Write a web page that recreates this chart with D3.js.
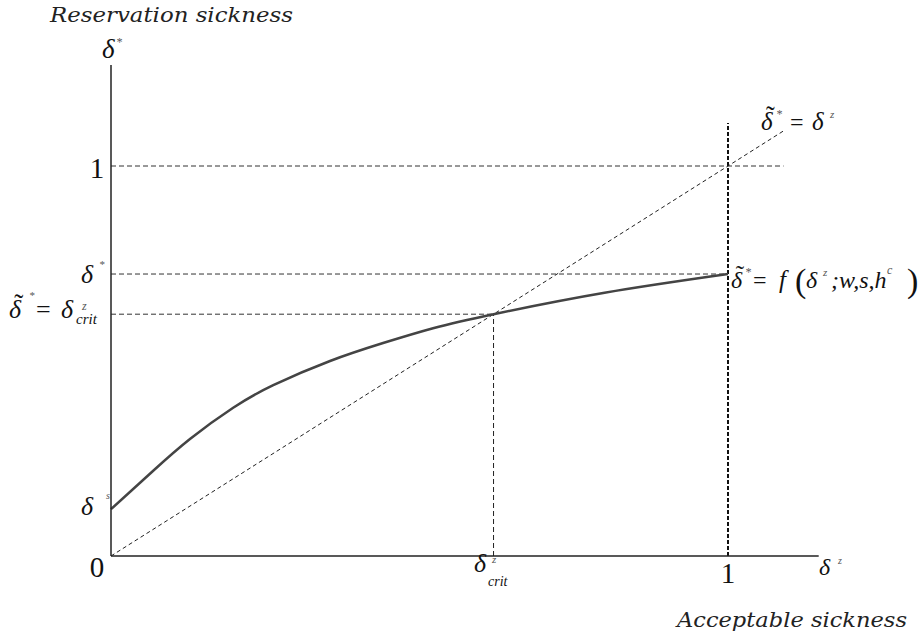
<!DOCTYPE html>
<html>
<head>
<meta charset="utf-8">
<script src="https://cdn.jsdelivr.net/npm/d3@7/dist/d3.min.js"></script>
<style>
  body { margin: 0; background: #fff; }
  .math { font-family: "Liberation Serif", serif; font-style: italic; fill: #111; }
  .num { font-family: "Liberation Serif", serif; fill: #111; }
  .title { font-family: "DejaVu Serif", serif; font-style: italic; fill: #222; }
</style>
</head>
<body>
<div id="chart"></div>
<script>
// reaction curve delta~* = f(delta^z; w, s, h^c)
const curveX = [0, 0.068, 0.128, 0.198, 0.263, 0.355, 0.441, 0.522, 0.62, 0.8, 1];
const curveY = [0.12, 0.218, 0.3, 0.38, 0.438, 0.5, 0.546, 0.584, 0.62, 0.675, 0.723];
// key levels
const deltaS = 0.12;
const deltaStar = 0.723;
const deltaCrit = 0.62;
const xTicks = [0, 1];
const yTicks = [1];
const axisTitles = ['Reservation sickness', 'Acceptable sickness'];

const W = 922, H = 636;
const svg = d3.select('#chart').append('svg')
    .attr('width', W).attr('height', H);

const x = d3.scaleLinear().domain([0, 1]).range([111, 728]);
const y = d3.scaleLinear().domain([0, 1]).range([556, 166]);

const xMax = 1.147, yMax = 1.259;

// dashed guides
const guide = (x1, y1, x2, y2, dash, width, color) => svg.append('line')
    .attr('x1', x(x1)).attr('y1', y(y1)).attr('x2', x(x2)).attr('y2', y(y2))
    .attr('stroke', color).attr('stroke-width', width)
    .attr('stroke-dasharray', dash);

guide(0, 1, 1.09, 1, '5,3', 1, '#333');
guide(0, deltaStar, 1, deltaStar, '5,3', 1, '#333');
guide(0, deltaCrit, deltaCrit, deltaCrit, '5,3', 1, '#333');
guide(deltaCrit, 0, deltaCrit, deltaCrit, '5,3', 1, '#222');
guide(1, 0, 1, 1.11, '4,2', 2, '#111');
guide(0, 0, 1.09, 1.09, '4,3', 1, '#222');

// the curve
const pts = curveX.map((d, i) => [d, curveY[i]]);
svg.append('path')
    .datum(pts)
    .attr('fill', 'none')
    .attr('stroke', '#444')
    .attr('stroke-width', 2.5)
    .attr('d', d3.line().x(d => x(d[0])).y(d => y(d[1])).curve(d3.curveNatural));

// axes
svg.append('line').attr('x1', x(0)).attr('y1', y(0)).attr('x2', x(xMax)).attr('y2', y(0))
    .attr('stroke', '#222').attr('stroke-width', 1.5);
svg.append('line').attr('x1', x(0)).attr('y1', y(0)).attr('x2', x(0)).attr('y2', y(yMax))
    .attr('stroke', '#222').attr('stroke-width', 1.5);

// tick numbers
xTicks.forEach(t => {
    svg.append('text').attr('class', 'num')
        .attr('x', t === 0 ? x(t) - 14 : x(t)).attr('y', t === 0 ? 577 : 583)
        .attr('text-anchor', 'middle').attr('font-size', 29).text(t);
});
yTicks.forEach(t => {
    svg.append('text').attr('class', 'num')
        .attr('x', x(0) - 14).attr('y', y(t) + 12)
        .attr('text-anchor', 'middle').attr('font-size', 29).text(t);
});

// a math label: one text element, pieces placed with absolute tspans
// piece: [x, y, str, size, kind]  kind: 'r' roman, 's' small grey, 't' tilde
function label(pieces) {
    const t = svg.append('text').attr('class', 'math');
    pieces.forEach(([px, py, str, size, kind]) => {
        const s = t.append('tspan').attr('x', px).attr('y', py)
            .attr('font-size', size).text(str);
        if (kind === 'r' || kind === 't') s.style('font-style', 'normal');
        if (kind === 's') s.style('fill', '#555');
    });
    return t;
}
// delta with tilde, as pieces
const dTilde = (px, py, size) => [
    [px, py, 'δ', size],
    [px + size * 0.2, py - size * 0.2, '˜', size * 1.05, 't']
];

// y-axis symbol
label([[102, 58, 'δ', 27], [116, 46, '*', 12, 's']]);
// x-axis symbol
label([[819, 575, 'δ', 24], [838, 564, 'z', 10, 's']]);

// left-hand level labels
label([[81, 283, 'δ', 26], [99, 268, '*', 11, 's']]);
label([
    ...dTilde(9, 318, 26),
    [29, 299, '*', 11, 's'],
    [36, 318, '=', 26, 'r'],
    [61, 318, 'δ', 26],
    [82, 310, 'z', 12, 's'],
    [76, 324, 'crit', 15]
]);
label([[81, 515, 'δ', 26], [106, 499, 's', 10, 's']]);

// crit on x-axis
label([[474, 572, 'δ', 26], [492, 563, 'z', 11, 's'], [488, 586, 'crit', 14]]);

// 45 degree label
label([
    ...dTilde(761, 130, 25),
    [776, 118, '*', 12, 's'],
    [790, 130, '=', 24, 'r'],
    [812, 130, 'δ', 25],
    [830, 118, 'z', 11, 's']
]);

// reaction curve label
label([
    ...dTilde(731, 288, 24),
    [745, 276, '*', 12, 's'],
    [753, 288, '=', 24, 'r'],
    [779, 288, 'f', 25],
    [795, 292, '(', 34, 'r'],
    [806, 288, 'δ', 24],
    [823, 276, 'z', 11, 's'],
    [831, 288, ';w,s,h', 24],
    [887, 274, 'c', 12, 's'],
    [907, 292, ')', 34, 'r']
]);

// axis titles
svg.append('text').attr('class', 'title')
    .attr('x', 50).attr('y', 22).attr('font-size', 20)
    .attr('textLength', 243).attr('lengthAdjust', 'spacingAndGlyphs').text(axisTitles[0]);
svg.append('text').attr('class', 'title')
    .attr('x', 677).attr('y', 627).attr('font-size', 20)
    .attr('textLength', 230).attr('lengthAdjust', 'spacingAndGlyphs').text(axisTitles[1]);
</script>
</body>
</html>
